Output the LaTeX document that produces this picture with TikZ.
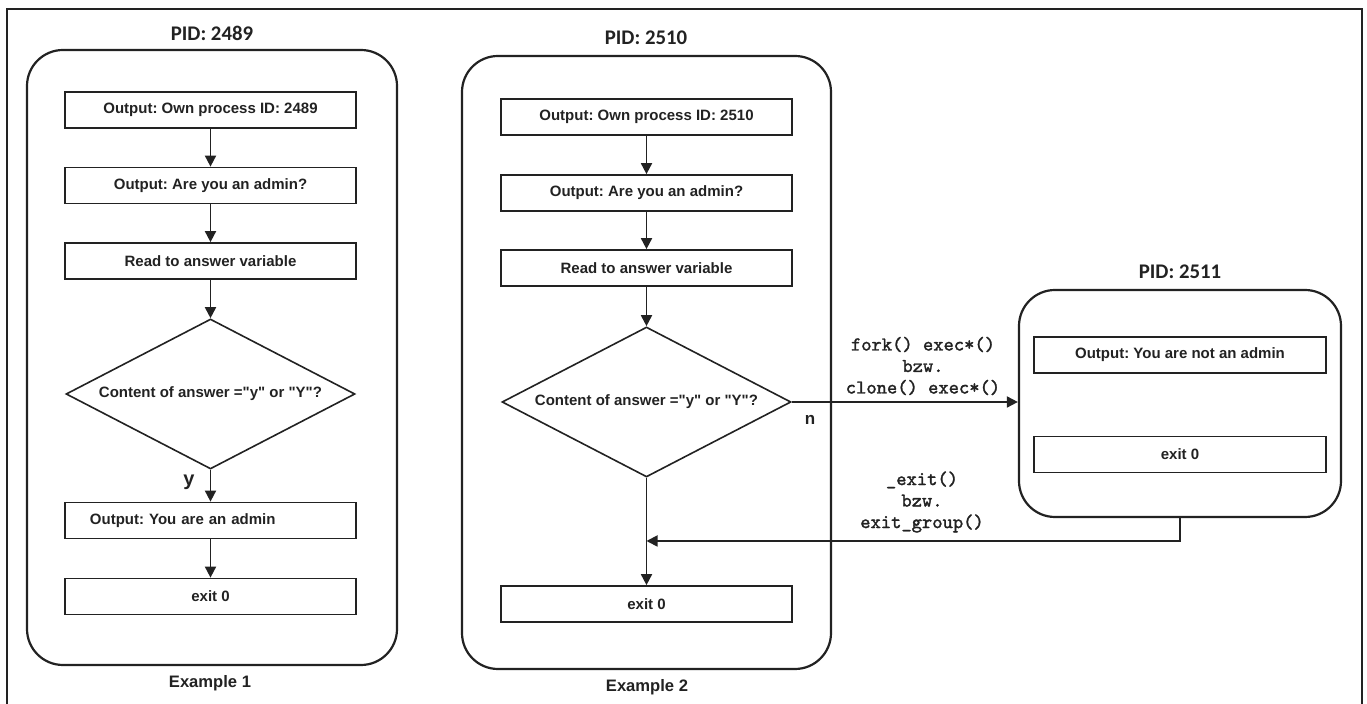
\documentclass[tikz,border=0pt]{standalone}
\usepackage{fontspec}
\setmainfont[Ligatures=TeXOff]{Liberation Sans}
\setmonofont[AutoFakeBold=1.6]{Latin Modern Mono}
\newfontfamily\titlefont{Carlito}
\usetikzlibrary{shapes.geometric,arrows.meta}
\definecolor{ink}{HTML}{222222}
\frenchspacing
\begin{document}
\begin{tikzpicture}[x=0.5pt,y=-0.5pt,
  boxtext/.style={font=\bfseries\fontsize{7.5}{9}\selectfont, text=ink},
  box/.style={boxtext, draw=ink, line width=0.85pt, minimum width=145.5pt,
    minimum height=18pt, inner sep=0pt},
  decision/.style={boxtext, diamond, draw=ink, line width=0.8pt, aspect=1.93,
    minimum width=144.5pt, minimum height=75pt, inner sep=0pt},
  container/.style={draw=ink, line width=1.1pt, rounded corners=18pt, inner sep=0pt},
  pidtitle/.style={font=\titlefont\bfseries\fontsize{10.4}{12}\selectfont, text=ink},
  caption/.style={font=\bfseries\fontsize{8.3}{10}\selectfont, text=ink},
  flow/.style={draw=ink, line width=0.9pt, -{Triangle[length=5.5pt,width=5.5pt]}},
  syscall/.style={font=\ttfamily\bfseries\fontsize{9.8}{10.75}\selectfont,
    align=center, text=ink},
  branch/.style={font=\bfseries\fontsize{8.5}{10}\selectfont, text=ink}
]
\useasboundingbox (0,0) rectangle (1367,704);
% page frame (open at the bottom)
\draw[ink, line width=0.75pt] (7,704) -- (7,9) -- (1362,9) -- (1362,704);

% ---------- Example 1 ----------
\node[container, minimum width=185pt, minimum height=307.5pt] (c1) at (212,357.5) {};
\node[pidtitle] (t1) at (212,33) {PID: 2489};
\node[box] (a1) at (210.5,110) {Output: Own process ID: 2489};
\node[box] (a2) at (210.5,185.5) {Output: Are you an admin?};
\node[box] (a3) at (210.5,261) {Read to answer variable};
\node[decision] (a4) at (210.5,394) {Content of answer ="y" or "Y"?};
\node[box, text width=120.5pt, align=left, inner xsep=12.5pt] (a5) at (210.5,520.5) {Output: You are an admin};
\node[box] (a6) at (210.5,596.5) {exit 0};
\node[caption] (e1) at (210,683) {Example 1};
\node[branch, font=\bfseries\fontsize{10}{12}\selectfont] (ly) at (189,482) {y};
\draw[flow] (a1) -- (a2);
\draw[flow] (a2) -- (a3);
\draw[flow] (a3) -- (a4);
\draw[flow] (a4.south) -- (a5);
\draw[flow] (a5) -- (a6);

% ---------- Example 2 ----------
\node[container, minimum width=184.5pt, minimum height=306.5pt] (c2) at (646.5,362.5) {};
\node[pidtitle] (t2) at (646,38) {PID: 2510};
\node[box] (b1) at (646.5,117) {Output: Own process ID: 2510};
\node[box] (b2) at (646.5,193) {Output: Are you an admin?};
\node[box] (b3) at (646.5,268) {Read to answer variable};
\node[decision] (b4) at (646.5,402) {Content of answer ="y" or "Y"?};
\node[box] (b5) at (646.5,604) {exit 0};
\node[caption] (e2) at (647,687) {Example 2};
\node[branch] (ln) at (810,420) {n};
\draw[flow] (b1) -- (b2);
\draw[flow] (b2) -- (b3);
\draw[flow] (b3) -- (b4);
\draw[flow] (b4.south) -- (b5);

% ---------- child process ----------
\node[container, minimum width=161pt, minimum height=113.5pt] (c3) at (1180,403.5) {};
\node[pidtitle] (t3) at (1180,272) {PID: 2511};
\node[box, minimum width=146pt] (d1) at (1180,355) {Output: You are not an admin};
\node[box, minimum width=146pt] (d2) at (1180,454.5) {exit 0};

% fork and return
\coordinate (merge) at (646.5,541);
\draw[flow] (b4.east) -- (b4.east -| c3.west);
\node[syscall] (fk) at (923,366) {fork() exec*()\\bzw.\\clone() exec*()};
\draw[flow] (c3.south) |- (merge);
\node[syscall] (ex) at (922,502) {\_exit()\\bzw.\\exit\_group()};
\end{tikzpicture}
\end{document}
